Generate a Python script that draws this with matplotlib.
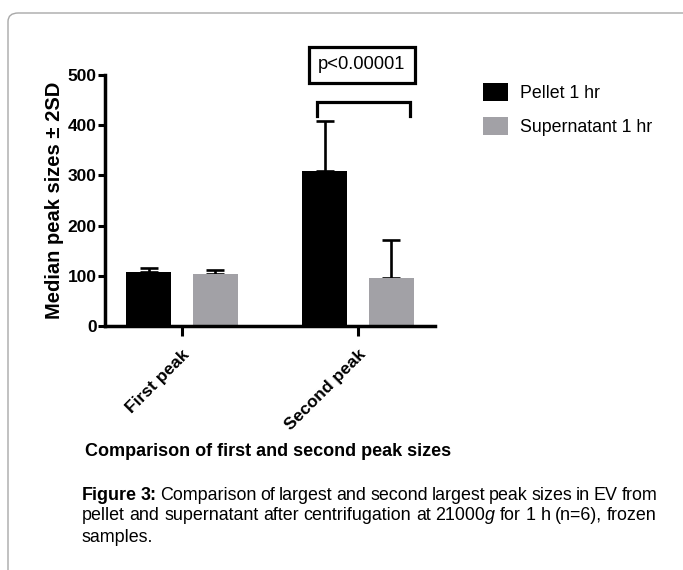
import matplotlib
matplotlib.use('Agg')
import matplotlib.pyplot as plt
import numpy as np
from matplotlib.patches import FancyBboxPatch, Patch

plt.rcParams['font.family'] = ['Liberation Sans', 'DejaVu Sans']

# data
groups = ['First peak', 'Second peak']
series = ['Pellet 1 hr', 'Supernatant 1 hr']
medians = {'Pellet 1 hr': [108, 308], 'Supernatant 1 hr': [104, 96]}
sd2 = {'Pellet 1 hr': [8, 100], 'Supernatant 1 hr': [8, 76]}
colors = {'Pellet 1 hr': '#000000', 'Supernatant 1 hr': '#a2a1a6'}
yticks = [0, 100, 200, 300, 400, 500]
p_text = 'p<0.00001'

W, H = 683, 570
fig = plt.figure(figsize=(W / 100, H / 100), dpi=100)

# rounded frame around the figure (runs off the right and bottom edges)
frame = FancyBboxPatch((8 / W, -0.2), 720 / W, 1.2 - 13 / H,
                       boxstyle='round,pad=0,rounding_size=0.015',
                       transform=fig.transFigure, fc='white', ec='#a8a8a8',
                       lw=1.0, zorder=-5)
fig.patches.append(frame)

ax = fig.add_axes([105 / W, 1 - 326 / H, 330 / W, 251 / H])
ax.patch.set_alpha(0)

x = np.arange(len(groups))
offs = [-0.19, 0.19]
width = 0.26
for s, off in zip(series, offs):
    ax.bar(x + off, medians[s], width, color=colors[s], zorder=2)
    ax.errorbar(x + off, medians[s], yerr=[np.zeros(len(groups)), sd2[s]],
                fmt='none', ecolor='black', elinewidth=1.9, capsize=6.5,
                capthick=1.9, zorder=1)

ax.set_xlim(-0.4375, 1.4375)
ax.set_ylim(0, 500)
ax.set_yticks(yticks)
ax.set_yticklabels([str(v) for v in yticks], fontsize=12.5, fontweight='bold')
ax.set_xticks(x)
ax.set_xticklabels(groups, rotation=45, ha='right', va='top', fontsize=12.5,
                   fontweight='bold', rotation_mode='anchor')
ax.tick_params(axis='y', length=5, width=2.2, pad=1)
ax.tick_params(axis='x', length=7, width=2.2, pad=8)
for sp in ['top', 'right']:
    ax.spines[sp].set_visible(False)
for sp in ['left', 'bottom']:
    ax.spines[sp].set_linewidth(2.5)

ax.set_ylabel('Median peak sizes \u00b1 2SD', fontsize=14.5, fontweight='bold', labelpad=3)

# significance bracket and p-value box
bx0, bx1 = 0.767, 1.295
ax.plot([bx0, bx0, bx1, bx1], [418, 446, 446, 418], color='black', lw=2.3,
        clip_on=False, solid_joinstyle='miter')
ax.text((bx0 + bx1) / 2 - 0.01, 520, p_text, ha='center', va='center', fontsize=13.2,
        bbox=dict(boxstyle='square,pad=0.5', fc='white', ec='black', lw=2.3),
        clip_on=False)

handles = [Patch(facecolor=colors[s], edgecolor='none') for s in series]
fig.legend(handles, series, loc='upper left', bbox_to_anchor=(483 / W, 1 - 83 / H),
           frameon=False, fontsize=12.8, handlelength=1.4, handleheight=1.15,
           labelspacing=0.85, handletextpad=0.7, borderpad=0, borderaxespad=0)

fig.text(268 / W, 1 - 452 / H, 'Comparison of first and second peak sizes',
         ha='center', va='center', fontsize=13, fontweight='bold')

# caption, justified word by word between x0 and x1
renderer = fig.canvas.get_renderer()
cap_size = 12.9


def caption_line(y, words, x0, x1=None, size=cap_size):
    pieces = []
    total = 0.0
    for word in words:
        wp = []
        for txt, kw in word:
            t = fig.text(0, 1 - y / H, txt, ha='left', va='center', fontsize=size, **kw)
            w = t.get_window_extent(renderer).width
            wp.append((t, w))
            total += w
        pieces.append(wp)
    if x1 is None or len(pieces) < 2:
        gap = 0.28 * size
    else:
        gap = (x1 - x0 - total) / (len(pieces) - 1)
    xx = x0
    for wp in pieces:
        for t, w in wp:
            t.set_x(xx / W)
            xx += w
        xx += gap


def plain(s):
    return [[(w, {})] for w in s.split()]


bold = {'fontweight': 'bold'}
line1 = [[('Figure', bold)], [('3:', bold)]] + plain(
    'Comparison of largest and second largest peak sizes in EV from')
line2 = plain('pellet and supernatant after centrifugation at') + \
    [[('21000', {}), ('g', {'fontstyle': 'italic'})]] + plain('for 1 h (n=6), frozen')
caption_line(495, line1, 82, 657)
caption_line(516, line2, 82, 657)
caption_line(537, plain('samples.'), 82)

fig.savefig('out.png', dpi=100)
